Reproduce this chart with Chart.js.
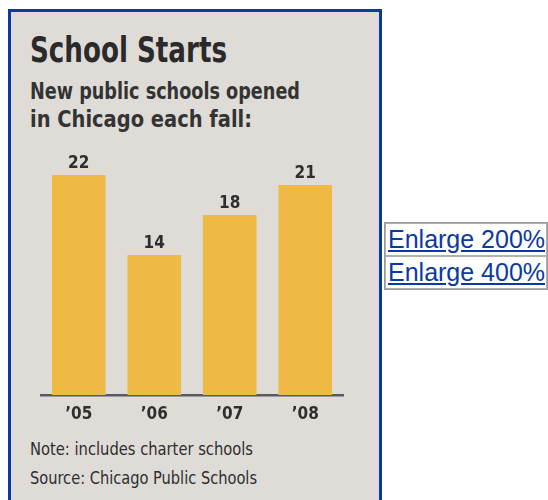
<!DOCTYPE html>
<html>
<head>
<meta charset="utf-8">
<script src="https://cdn.jsdelivr.net/npm/chart.js@4.4.1/dist/chart.umd.min.js"></script>
<style>
  html, body { margin: 0; padding: 0; background: #ffffff; width: 548px; height: 500px; overflow: hidden; position: relative; }
  #box { position: absolute; left: 8px; top: 9px; width: 368px; height: 500px; border: 3px solid #0b39a0; border-bottom: none; background: #dfdcd8; }
  .t { position: absolute; left: 30px; white-space: nowrap; color: #2e2e2e; font-family: "DejaVu Sans Condensed", "Liberation Sans Narrow", sans-serif; transform-origin: 0 50%; display: inline-block; }
  .title { top: 32px; font-size: 35px; line-height: 36px; font-weight: bold; color: #2a2a2a; }
  .sub { font-size: 23px; line-height: 28px; font-weight: bold; color: #333; }
  .note { font-size: 18px; line-height: 29px; color: #2e2e2e; }
  #chart { position: absolute; left: 11px; top: 130px; }
  #links { position: absolute; left: 384px; top: 222px; border-collapse: separate; border-spacing: 0; border: 1px solid #9a9a9a; }
  #links td { border: 1px solid #b0b0b0; padding: 0 1px 0 2px; font-family: "Liberation Sans", Arial, sans-serif; font-size: 25px; line-height: 31px; white-space: nowrap; }
  #links a { color: #0b39a0; text-decoration: underline; }
</style>
</head>
<body>
<div id="box"></div>
<div class="t title" data-w="197">School Starts</div>
<div class="t sub" style="top:77px" data-w="270">New public schools opened</div>
<div class="t sub" style="top:105px" data-w="222">in Chicago each fall:</div>
<canvas id="chart" width="368" height="300"></canvas>
<div class="t note" style="top:434px" data-w="223">Note: includes charter schools</div>
<div class="t note" style="top:463px" data-w="227">Source: Chicago Public Schools</div>
<table id="links">
  <tr><td><a href="#">Enlarge 200%</a></td></tr>
  <tr><td><a href="#">Enlarge 400%</a></td></tr>
</table>
<script>
const categories = ["\u201905", "\u201906", "\u201907", "\u201908"];
const schoolsOpened = [22, 14, 18, 21];

document.querySelectorAll('.t[data-w]').forEach(el => {
  const w = el.getBoundingClientRect().width;
  const target = parseFloat(el.dataset.w);
  if (w > 0) el.style.transform = 'scaleX(' + (target / w) + ')';
});

const FONT = '"DejaVu Sans Condensed", "Liberation Sans Narrow", sans-serif';

const valueLabels = {
  id: 'valueLabels',
  afterDatasetsDraw(chart) {
    const ctx = chart.ctx;
    const meta = chart.getDatasetMeta(0);
    ctx.save();
    ctx.font = 'bold 17px ' + FONT;
    ctx.fillStyle = '#2e2e2e';
    ctx.textAlign = 'center';
    ctx.textBaseline = 'alphabetic';
    meta.data.forEach((bar, i) => {
      ctx.fillText(String(schoolsOpened[i]), bar.x, bar.y - 7);
    });
    ctx.restore();
  }
};

new Chart(document.getElementById('chart'), {
  type: 'bar',
  data: {
    labels: categories,
    datasets: [{
      data: schoolsOpened,
      backgroundColor: '#efba44',
      borderWidth: 0,
      categoryPercentage: 1.0,
      barPercentage: 0.71
    }]
  },
  options: {
    responsive: false,
    devicePixelRatio: 1,
    animation: false,
    layout: { padding: { left: 30, right: 36, top: 25, bottom: 0 } },
    plugins: {
      legend: { display: false },
      title: { display: false },
      tooltip: { enabled: false }
    },
    scales: {
      x: {
        grid: { display: false, drawTicks: false },
        border: { display: true, color: '#565a66', width: 2.5 },
        ticks: { color: '#2e2e2e', font: { family: FONT, size: 17, weight: 'bold' }, padding: 9 },
        afterFit(scale) { scale.height = 35; }
      },
      y: {
        display: false,
        min: 0,
        max: 24
      }
    }
  },
  plugins: [valueLabels]
});
</script>
</body>
</html>
